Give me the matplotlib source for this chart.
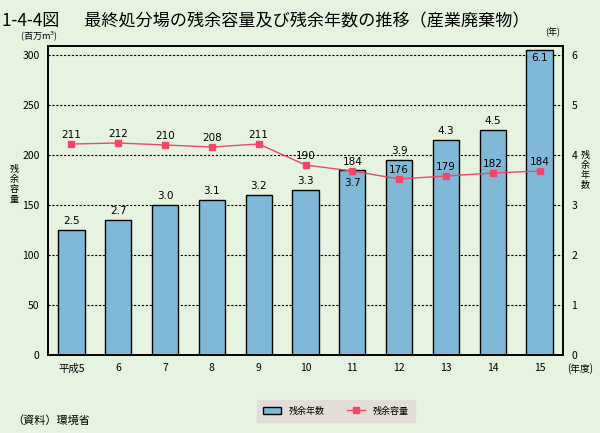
import matplotlib.pyplot as plt
import numpy as np

plt.rcParams['font.family'] = ['Noto Sans CJK JP', 'DejaVu Sans']

years = ["平成5", "6", "7", "8", "9", "10", "11", "12", "13", "14", "15"]
remaining_years = [2.5, 2.7, 3.0, 3.1, 3.2, 3.3, 3.7, 3.9, 4.3, 4.5, 6.1]
remaining_capacity = [211, 212, 210, 208, 211, 190, 184, 176, 179, 182, 184]

bg = "#e5f3e0"
bar_color = "#80b8d8"
line_color = "#f04868"

fig = plt.figure(figsize=(6, 4.33), dpi=100, facecolor=bg)
ax = fig.add_axes([48 / 600, 1 - 355 / 433, 515 / 600, 309 / 433])
ax.set_facecolor(bg)
ax2 = ax.twinx()

x = np.arange(len(years))
ax.set_xlim(-0.5, len(years) - 0.5)
ax.set_ylim(0, 309)
ax2.set_ylim(0, 6.18)

# bars go on the left axes so the gridlines stay behind them
scale = 50
ax.bar(x, np.array(remaining_years) * scale, width=0.56, color=bar_color,
       edgecolor="black", linewidth=1, zorder=2)
ax.plot(x, remaining_capacity, color=line_color, marker="s", markersize=4,
        linewidth=1, zorder=3)

for v in [50, 100, 150, 200, 250, 300]:
    ax.axhline(v, color="black", linestyle=(0, (2, 1.5)), linewidth=0.8, zorder=1)

num_font = dict(fontsize=7.5, family="DejaVu Sans")
inside = {6: -6, 10: -2.5}
for i, v in enumerate(remaining_years):
    top = v * scale
    if i in inside:
        ax.annotate(f"{v:.1f}", (i, top), xytext=(0, inside[i]), textcoords="offset points",
                    ha="center", va="top", zorder=4, **num_font)
    else:
        ax.annotate(f"{v:.1f}", (i, top), xytext=(0, 3), textcoords="offset points",
                    ha="center", va="bottom", zorder=4, **num_font)

for i, c in enumerate(remaining_capacity):
    ax.annotate(str(c), (i, c), xytext=(0, 3), textcoords="offset points",
                ha="center", va="bottom", zorder=4, **num_font)

ax.set_xticks(x)
ax.set_xticklabels(years, fontsize=7.5)
ax.set_yticks(range(0, 301, 50))
ax.tick_params(axis="y", labelsize=7.5, length=0, pad=6)
ax.tick_params(axis="x", length=0, pad=6)
ax2.set_yticks(range(0, 7))
ax2.tick_params(axis="y", labelsize=7.5, length=0, pad=6)
for a in (ax, ax2):
    for s in a.spines.values():
        s.set_linewidth(1.2)

fig.text(0.003, 0.972, "1-4-4図　  最終処分場の残余容量及び残余年数の推移（産業廃棄物）",
         fontsize=12.3, va="top", ha="left")
fig.text(20 / 600, 1 - 36 / 433, "(百万m$^3$)", fontsize=6.5, va="center")
fig.text(553 / 600, 1 - 32 / 433, "(年)", fontsize=6.5, va="center", ha="center")
fig.text(580 / 600, 1 - 369 / 433, "(年度)", fontsize=7, va="center", ha="center")
fig.text(14 / 600, 1 - 184 / 433, "残\n余\n容\n量", fontsize=6.5, va="center",
         ha="center", linespacing=1.15)
fig.text(585 / 600, 1 - 170 / 433, "残\n余\n年\n数", fontsize=6.5, va="center",
         ha="center", linespacing=1.15)
fig.text(12 / 600, 1 - 421 / 433, "（資料）環境省", fontsize=8, va="center")

leg = ax.legend(handles=[
    plt.Rectangle((0, 0), 1, 1, facecolor=bar_color, edgecolor="black"),
    plt.Line2D([], [], color=line_color, marker="s", markersize=4, linewidth=1)],
    labels=["残余年数", "残余容量"], ncol=2, fontsize=6.5,
    loc="center", bbox_to_anchor=(336 / 600, 1 - 411 / 433),
    bbox_transform=fig.transFigure, frameon=True, fancybox=False,
    handlelength=2, columnspacing=2.5, borderpad=0.7)
leg.get_frame().set_facecolor("#e3ddd8")
leg.get_frame().set_edgecolor("#e3ddd8")
leg.get_frame().set_alpha(1)

fig.savefig("out.png", dpi=100, facecolor=bg)
